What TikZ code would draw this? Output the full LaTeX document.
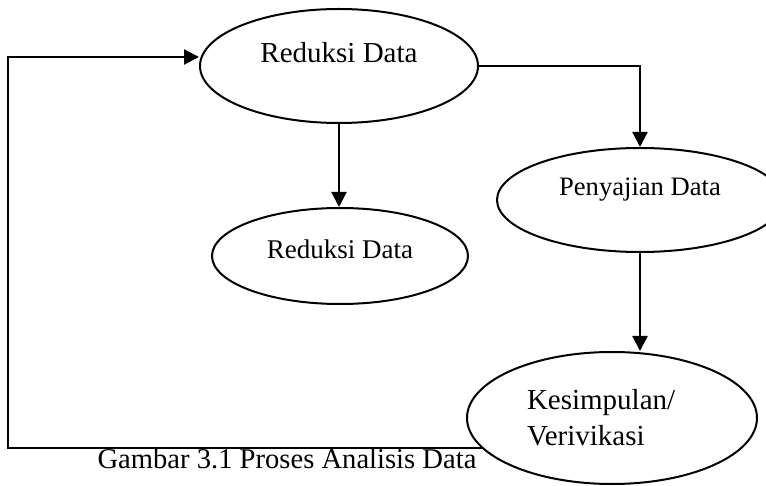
\documentclass[tikz,border=0pt]{standalone}
\usepackage{fontspec}
\setmainfont{Liberation Serif}
\usetikzlibrary{shapes.geometric,arrows.meta}

\begin{document}
\begin{tikzpicture}[x=0.5pt, y=-0.5pt, >={Triangle[length=7.5pt,width=7.5pt]},
		proses/.style={draw, ellipse, line width=1pt, inner sep=0pt},
		panah/.style={->, line width=1.1pt}]
	\clip (0,0) rectangle (766,486);
	\node[proses, minimum width=139pt, minimum height=57pt, font=\fontsize{14.5}{17}\selectfont, text height=9.6pt, text depth=13pt] (R1) at (339,66) {Reduksi Data};
	\node[proses, minimum width=128pt, minimum height=48pt, font=\fontsize{13.5}{16}\selectfont, text height=8.9pt, text depth=6.5pt] (R2) at (340,256) {Reduksi Data};
	\node[proses, minimum width=143pt, minimum height=52pt, font=\fontsize{13.3}{16}\selectfont, text height=8.8pt, text depth=13pt] (P) at (640,200) {Penyajian Data};
	\node[proses, minimum width=145pt, minimum height=66pt, font=\fontsize{14.5}{18}\selectfont, align=left, text width=85pt] (K) at (612,418) {Kesimpulan/\\Verivikasi};
	\node[font=\fontsize{14.3}{17}\selectfont, anchor=base] (judul) at (287,468) {Gambar 3.1 Proses Analisis Data};
	\coordinate (balik) at (8,57);
	\draw[panah] (R1.east) -| (P.north);
	\draw[panah] (R1.south) -- (R1.south |- R2.north);
	\draw[panah] (P.south) -- (P.south |- K.north);
	\draw[panah] (K.193) -| (balik) -- (balik -| R1.west);
\end{tikzpicture}
\end{document}
